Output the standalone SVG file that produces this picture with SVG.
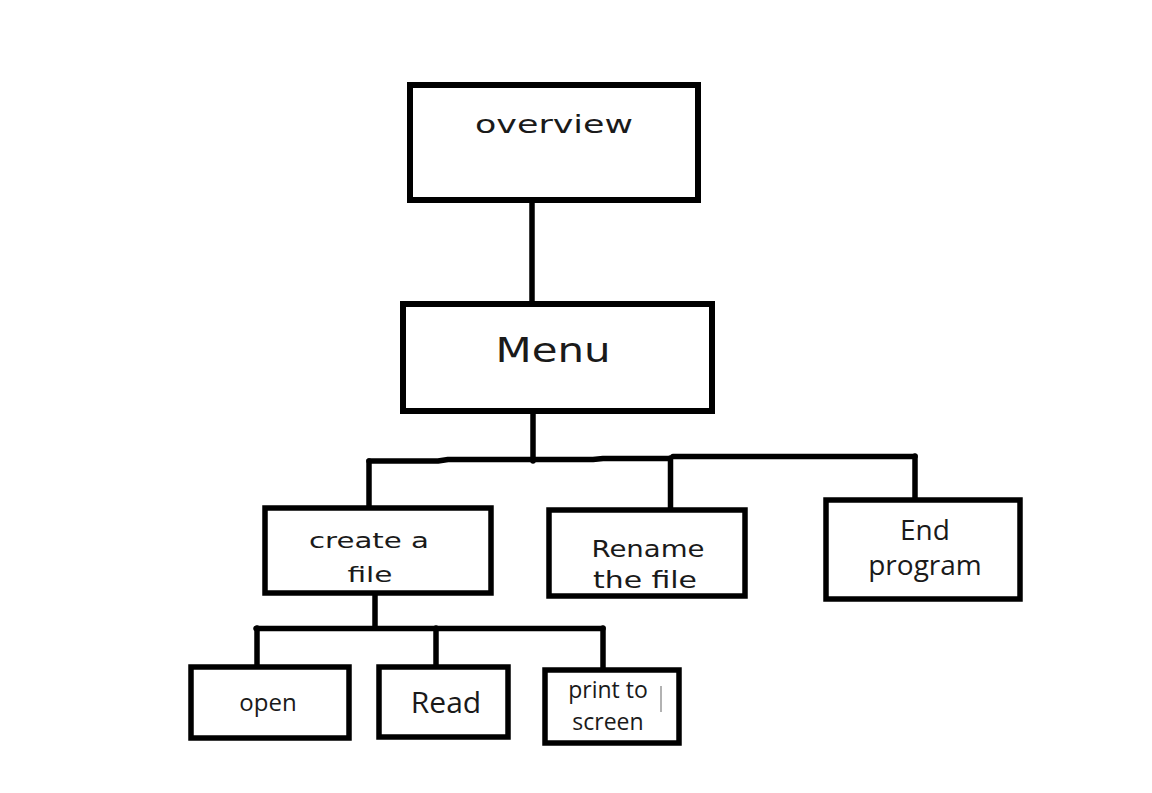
<svg xmlns="http://www.w3.org/2000/svg" width="1152" height="793" viewBox="0 0 1152 793">
<style>
.box{fill:#fff;stroke:#000;stroke-width:6}
.bx5{fill:#fff;stroke:#000;stroke-width:5.5}
.dv{font-family:"DejaVu Sans",sans-serif;fill:#1a1a1a;text-anchor:middle}
.os{font-family:"Open Sans","Noto Sans",sans-serif;fill:#1a1a1a;text-anchor:middle}
.c{fill:none;stroke:#000;stroke-width:5.5;stroke-linecap:round;stroke-linejoin:round}
</style>
<rect width="1152" height="793" fill="#fff"/>
<g id="connectors">
<line class="c" x1="532" y1="200" x2="532" y2="304" stroke-width="6"/>
<line class="c" x1="533" y1="411" x2="533" y2="461"/>
<polyline class="c" points="369,461 438,461 448,459.5 593,459.5 603,458.5 670,458.5"/>
<line class="c" x1="673" y1="456.5" x2="915" y2="456.5"/>
<line class="c" x1="369" y1="461" x2="369" y2="508"/>
<line class="c" x1="670.5" y1="458" x2="670.5" y2="510"/>
<line class="c" x1="915" y1="456" x2="915" y2="500"/>
<line class="c" x1="375" y1="593" x2="375" y2="628"/>
<line class="c" x1="256" y1="628.5" x2="603" y2="628.5"/>
<line class="c" x1="257" y1="628" x2="257" y2="667"/>
<line class="c" x1="436" y1="628" x2="436" y2="667"/>
<line class="c" x1="603" y1="628" x2="603" y2="670"/>
</g>
<g id="overview">
<rect class="box" x="410" y="85" width="288" height="115"/>
<text class="dv" x="554" y="133" font-size="25" textLength="158" lengthAdjust="spacingAndGlyphs">overview</text>
</g>
<g id="menu">
<rect class="box" x="403" y="304" width="309" height="107"/>
<text class="dv" x="553" y="362" font-size="33" textLength="115" lengthAdjust="spacingAndGlyphs">Menu</text>
</g>
<g id="create">
<rect class="bx5" x="265" y="508" width="226" height="85"/>
<text class="dv" x="369" y="548" font-size="22" textLength="120" lengthAdjust="spacingAndGlyphs">create a</text>
<text class="dv" x="370" y="582" font-size="22" textLength="45" lengthAdjust="spacingAndGlyphs">file</text>
</g>
<g id="rename">
<rect class="bx5" x="549" y="510" width="196" height="86"/>
<text class="dv" x="648" y="557" font-size="23" textLength="113" lengthAdjust="spacingAndGlyphs">Rename</text>
<text class="dv" x="645" y="588" font-size="23" textLength="104" lengthAdjust="spacingAndGlyphs">the file</text>
</g>
<g id="end">
<rect class="bx5" x="826" y="500" width="194" height="99"/>
<text class="os" x="925" y="540" font-size="28">End</text>
<text class="os" x="925" y="575" font-size="28">program</text>
</g>
<g id="open">
<rect class="bx5" x="191" y="667" width="158" height="71"/>
<text class="os" x="268" y="711" font-size="24">open</text>
</g>
<g id="read">
<rect class="bx5" x="379" y="667" width="129" height="70"/>
<text class="os" x="446" y="713" font-size="30">Read</text>
</g>
<g id="print">
<rect class="bx5" x="545" y="670" width="134" height="73"/>
<text class="os" x="608" y="698" font-size="23">print to</text>
<text class="os" x="608" y="730" font-size="23">screen</text>
<line x1="661" y1="686" x2="661" y2="712" stroke="#999" stroke-width="1.5"/>
</g>
</svg>
